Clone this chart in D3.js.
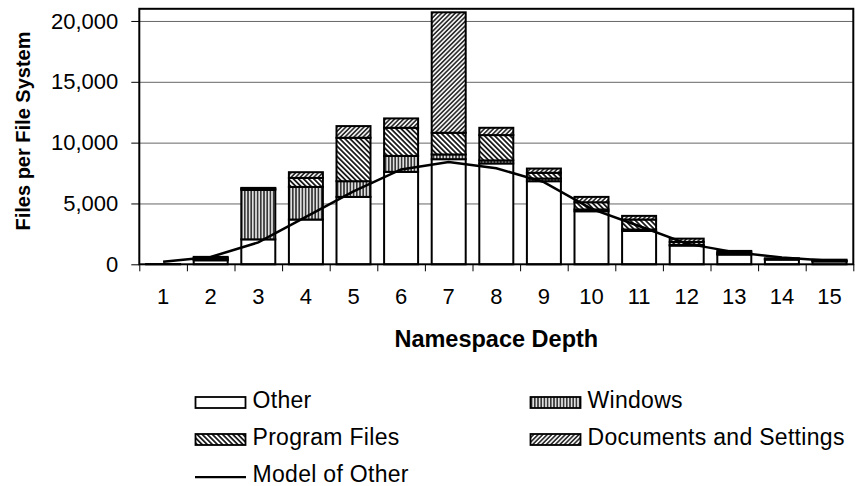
<!DOCTYPE html>
<html>
<head>
<meta charset="utf-8">
<script src="https://cdn.jsdelivr.net/npm/d3@7"></script>
<style>
  html, body { margin: 0; padding: 0; background: #fff; }
  text { font-family: "Liberation Sans", Arial, sans-serif; fill: #000; }
</style>
</head>
<body>
<div id="chart"></div>
<script>
// values (files per file system)
const depths = [1, 2, 3, 4, 5, 6, 7, 8, 9, 10, 11, 12, 13, 14, 15];
const other = [20, 330, 2050, 3680, 5540, 7600, 8640, 8290, 6830, 4360, 2740, 1540, 800, 390, 240];
const windows = [0, 60, 4070, 2680, 1290, 1310, 390, 250, 220, 150, 120, 60, 50, 20, 20];
const programFiles = [0, 120, 100, 740, 3570, 2310, 1780, 2080, 470, 590, 820, 240, 130, 40, 60];
const docsSettings = [0, 100, 60, 470, 960, 770, 9900, 600, 350, 440, 300, 270, 120, 40, 60];
const modelOther = [200, 600, 1800, 3900, 6000, 7800, 8400, 7900, 6750, 4550, 3150, 1700, 1000, 550, 300];
const yTicks = [0, 5000, 10000, 15000, 20000];
const seriesKeys = ['other', 'windows', 'programFiles', 'docs'];
const seriesNames = ['Other', 'Windows', 'Program Files', 'Documents and Settings', 'Model of Other'];

const width = 855;
const height = 486;
const plotLeft = 139.3, plotRight = 853.3, plotTop = 8.8, plotBottom = 264.3;

const table = depths.map((d, i) => ({
  depth: d,
  other: other[i],
  windows: windows[i],
  programFiles: programFiles[i],
  docs: docsSettings[i]
}));

const svg = d3.select('#chart')
  .append('svg')
    .attr('width', width)
    .attr('height', height);

// hatch patterns
const defs = svg.append('defs');
const hatch = (id, size, angle, bg, lineW) => {
  const p = defs.append('pattern')
    .attr('id', id)
    .attr('patternUnits', 'userSpaceOnUse')
    .attr('width', size)
    .attr('height', size)
    .attr('patternTransform', `rotate(${angle})`);
  p.append('rect').attr('width', size).attr('height', size).attr('fill', bg);
  p.append('line')
    .attr('x1', size / 2).attr('x2', size / 2)
    .attr('y1', 0).attr('y2', size)
    .attr('stroke', '#000')
    .attr('stroke-width', lineW);
};
hatch('pat-windows', 3.2, 0, '#e0e0e0', 1.2);
hatch('pat-program', 3.6, -45, '#fff', 1.6);
hatch('pat-docs', 3.2, 45, '#f4f4f4', 1.3);

const fills = {
  other: '#fff',
  windows: 'url(#pat-windows)',
  programFiles: 'url(#pat-program)',
  docs: 'url(#pat-docs)'
};

const x = d3.scaleBand()
  .domain(depths)
  .range([plotLeft, plotRight])
  .paddingInner(0.4 / 1.4)
  .paddingOuter(0.2 / 1.4);

const xEdge = d3.scaleLinear()
  .domain([0, depths.length])
  .range([plotLeft, plotRight]);

const y = d3.scaleLinear()
  .domain([0, 21000])
  .range([plotBottom, plotTop]);

// gridlines
svg.append('g')
  .attr('transform', `translate(${plotLeft},0)`)
  .call(d3.axisLeft(y).tickValues(yTicks.slice(1)).tickSize(-(plotRight - plotLeft)).tickFormat(''))
  .call(g => g.select('.domain').remove())
  .call(g => g.selectAll('line').attr('stroke', '#666').attr('stroke-width', 1));

// stacked bars
const stacked = d3.stack().keys(seriesKeys)(table);

svg.append('g')
  .selectAll('g')
  .data(stacked)
  .join('g')
    .attr('fill', d => fills[d.key])
  .selectAll('rect')
  .data(d => d)
  .join('rect')
    .attr('x', d => x(d.data.depth))
    .attr('width', x.bandwidth())
    .attr('y', d => y(d[1]))
    .attr('height', d => y(d[0]) - y(d[1]))
    .attr('stroke', '#000')
    .attr('stroke-width', 2);

// model line
const line = d3.line()
  .x((d, i) => x(depths[i]) + x.bandwidth() / 2)
  .y(d => y(d));

svg.append('path')
  .datum(modelOther)
  .attr('d', line)
  .attr('fill', 'none')
  .attr('stroke', '#000')
  .attr('stroke-width', 2.5);

// frame
svg.append('rect')
  .attr('x', plotLeft).attr('y', plotTop)
  .attr('width', plotRight - plotLeft).attr('height', plotBottom - plotTop)
  .attr('fill', 'none')
  .attr('stroke', '#000')
  .attr('stroke-width', 2);

// y axis
svg.append('g')
  .attr('transform', `translate(${plotLeft},0)`)
  .call(d3.axisLeft(y).tickValues(yTicks).tickFormat(d3.format(',')).tickSize(8).tickPadding(13))
  .call(g => g.select('.domain').remove())
  .call(g => g.selectAll('text').attr('font-size', 22).attr('font-family', null))
  .call(g => g.selectAll('line').attr('stroke', '#000'));

// x tick marks on category edges
svg.append('g')
  .attr('transform', `translate(0,${plotBottom})`)
  .call(d3.axisBottom(xEdge).tickValues(d3.range(depths.length + 1)).tickSize(7).tickFormat(''))
  .call(g => g.select('.domain').remove())
  .call(g => g.selectAll('line').attr('stroke', '#000'));

// x labels
svg.append('g')
  .attr('transform', `translate(0,${plotBottom})`)
  .call(d3.axisBottom(x).tickSize(0).tickPadding(24))
  .call(g => g.select('.domain').remove())
  .call(g => g.selectAll('text').attr('font-size', 22).attr('font-family', null));

// axis titles
svg.append('text')
  .attr('transform', 'translate(29.5,131) rotate(-90)')
  .attr('text-anchor', 'middle')
  .attr('font-size', 20)
  .attr('font-weight', 'bold')
  .text('Files per File System');

svg.append('text')
  .attr('x', (plotLeft + plotRight) / 2)
  .attr('y', 346.7)
  .attr('text-anchor', 'middle')
  .attr('font-size', 23.5)
  .attr('font-weight', 'bold')
  .text('Namespace Depth');

// legend
const legendItems = [
  {name: seriesNames[0], fill: fills.other, col: 0, row: 0},
  {name: seriesNames[1], fill: fills.windows, col: 1, row: 0},
  {name: seriesNames[2], fill: fills.programFiles, col: 0, row: 1},
  {name: seriesNames[3], fill: fills.docs, col: 1, row: 1},
  {name: seriesNames[4], fill: null, col: 0, row: 2}
];
const colX = [195, 530];
const rowY = [408, 445, 481.7];

const legend = svg.append('g')
  .selectAll('g')
  .data(legendItems)
  .join('g')
    .attr('transform', d => `translate(${colX[d.col]},${rowY[d.row]})`);

legend.filter(d => d.fill)
  .append('rect')
    .attr('x', 0.5).attr('y', -11)
    .attr('width', 50).attr('height', 11)
    .attr('fill', d => d.fill)
    .attr('stroke', '#000')
    .attr('stroke-width', 1.8);

legend.filter(d => !d.fill)
  .append('line')
    .attr('x1', 0).attr('x2', 51)
    .attr('y1', -4.5).attr('y2', -4.5)
    .attr('stroke', '#000')
    .attr('stroke-width', 2.2);

legend.append('text')
  .attr('x', 57.5)
  .attr('y', 0)
  .attr('font-size', 23)
  .attr('letter-spacing', 0.3)
  .text(d => d.name);
</script>
</body>
</html>
